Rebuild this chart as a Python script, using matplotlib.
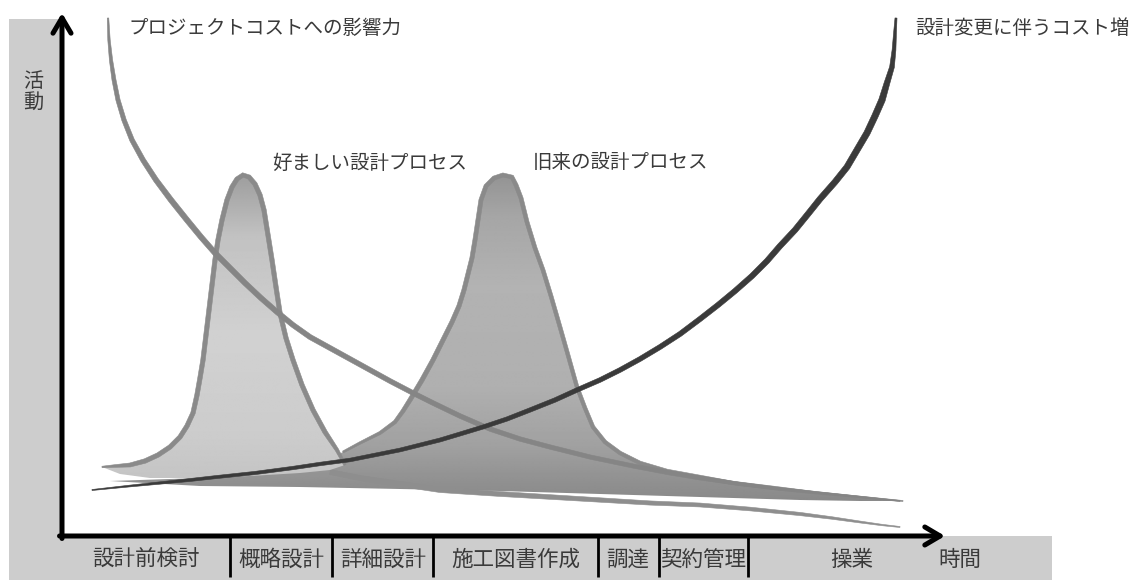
import numpy as np
import matplotlib
matplotlib.use('Agg')
import matplotlib.pyplot as plt
from matplotlib.patches import Polygon, Rectangle

plt.rcParams['font.family'] = ['Noto Sans CJK JP', 'DejaVu Sans']

# ---------------- data (chart units: t = time, a = activity; origin at axes corner) ----------------
phase_labels = ['設計前検討', '概略設計', '詳細設計', '施工図書作成', '調達', '契約管理', '操業']
phase_centers = [84, 219, 321, 454, 566, 641, 790]
phase_bounds = [168, 270, 371, 536, 597, 686]

# preferred design process (left peak): upper edge, then base back to start
pref_edge_t = [40, 53, 68, 83, 96, 108, 118, 125, 131, 135, 138, 141, 144, 147, 150, 153, 156, 160, 165, 170,
               175, 181, 187, 193, 198, 202, 206, 210, 214, 218, 224, 231, 240, 251, 263, 275, 283]
pref_edge_a = [69, 70, 71, 75, 81, 89, 99, 110, 123, 141, 158, 176, 201, 226, 251, 276, 296, 316, 336, 349,
               357, 361, 359, 352, 341, 326, 301, 276, 249, 223, 198, 176, 151, 126, 104, 86, 71]
pref_base_t = [268, 238, 188, 138, 88, 58]
pref_base_a = [66, 63, 60, 58, 58, 62]

# traditional design process (right peak): upper edge, then base back to start
trad_edge_t = [48, 138, 218, 258, 281, 298, 318, 333, 341, 348, 360, 371, 381, 390, 397, 402, 406, 410, 413,
               416, 419, 424, 432, 441, 450, 454, 459, 465, 473, 481, 489, 498, 506, 515, 523, 531, 543, 558,
               578, 605, 638, 671, 713, 755, 798, 841]
trad_edge_a = [55, 58, 64, 72, 84, 93, 103, 114, 125, 136, 156, 176, 196, 214, 230, 246, 262, 278, 296,
               316, 336, 350, 358, 361, 359, 351, 338, 314, 288, 266, 240, 209, 181, 149, 128, 109, 94, 83,
               73, 65, 59, 53, 48, 43, 39, 35]
trad_base_t = [798, 738, 638, 538, 438, 338, 238, 138]
trad_base_a = [35, 36, 39, 42, 45, 47, 49, 50]
trad_rim_from = 4

# long lower tail
tail_t = [268, 283, 298, 318, 338, 358, 378, 408, 438, 488, 538, 588, 638, 688, 738, 770, 798, 820, 838]
tail_a = [64, 61, 58, 55, 52, 49, 46, 44, 42, 39, 36, 33, 31, 27, 22, 18, 14, 11, 9]

# influence on project cost
infl_t = [46, 47, 49, 52, 56, 62, 70, 81, 94, 109, 125, 139, 153, 168, 183, 199, 215, 231, 248, 268, 288, 308,
          328, 351, 371, 398, 428, 458, 488, 528, 571, 608, 638, 678, 718, 758, 798, 838]
infl_a = [518, 496, 476, 456, 436, 416, 396, 376, 356, 336, 316, 299, 283, 268, 253, 238, 224, 211, 199, 188,
          177, 166, 155, 143, 133, 120, 107, 97, 89, 79, 70, 63, 58, 52, 47, 43, 39, 35]

# cost of design changes
cost_t = [30, 68, 98, 128, 155, 193, 231, 258, 288, 313, 338, 358, 378, 398, 421, 445, 468, 493, 515, 538, 558,
          578, 598, 618, 638, 656, 673, 690, 705, 718, 733, 746, 758, 773, 785, 795, 805, 813, 820, 825, 830,
          832, 833, 834]
cost_a = [46, 50, 53, 56, 59, 63, 68, 72, 76, 81, 86, 91, 96, 102, 109, 117, 126, 136, 146, 156, 166,
          177, 189, 202, 217, 231, 245, 260, 275, 290, 306, 322, 337, 354, 369, 386, 403, 420, 436, 453, 469,
          486, 503, 518]

txt_color = '#3a3a3a'


def arclen_frac(x, y):
    s = np.concatenate([[0], np.cumsum(np.hypot(np.diff(x), np.diff(y)))])
    return s / s[-1]


def stroke(ax, x, y, w, color, z):
    x = np.asarray(x, float)
    y = np.asarray(y, float)
    w = np.asarray(w, float)
    dx = np.gradient(x)
    dy = np.gradient(y)
    n = np.hypot(dx, dy)
    nx, ny = -dy / n, dx / n
    left = np.column_stack([x + nx * w / 2, y + ny * w / 2])
    right = np.column_stack([x - nx * w / 2, y - ny * w / 2])
    poly = np.vstack([left, right[::-1]])
    ax.add_patch(Polygon(poly, closed=True, fc=color, ec=color, lw=0.4, zorder=z, joinstyle='round'))


def gradient_fill(ax, xs, ys, stops_y, stops_v, z):
    patch = Polygon(np.column_stack([xs, ys]), closed=True, fc='none', ec='none', zorder=z)
    ax.add_patch(patch)
    y0, y1 = min(ys), max(ys)
    yy = np.linspace(y0, y1, 300)
    vals = np.interp(yy, stops_y, stops_v)
    img = np.tile(vals[:, None], (1, 2))
    im = ax.imshow(img, extent=[min(xs), max(xs), y0, y1], origin='lower', cmap='gray', vmin=0, vmax=1,
                   aspect='auto', zorder=z, interpolation='bilinear')
    im.set_clip_path(patch)


fig = plt.figure(figsize=(11.32, 5.8), dpi=100)
ax = fig.add_axes([0, 0, 1, 1])
ax.set_xlim(-62, 1070)
ax.set_ylim(-44, 536)
ax.axis('off')

# gray bands
band = '#cdcdcd'
ax.add_patch(Rectangle((-53, -44), 53, 561, fc=band, ec='none', zorder=0))
ax.add_patch(Rectangle((-53, -44), 1043, 44, fc=band, ec='none', zorder=0))

# traditional peak
trad_t = trad_edge_t + trad_base_t
trad_a = trad_edge_a + trad_base_a
gradient_fill(ax, trad_t, trad_a, [35, 50, 90, 150, 250, 320, 361], [0.54, 0.56, 0.63, 0.69, 0.70, 0.65, 0.58], 2)
rt, ra = trad_edge_t[trad_rim_from:], trad_edge_a[trad_rim_from:]
stroke(ax, rt, ra, np.interp(arclen_frac(rt, ra), [0, 0.1, 0.85, 1], [2, 4.5, 3.5, 1]), '#8a8a8a', 3)

# lower tail
tx, ty = np.array(tail_t, float), np.array(tail_a, float)
stroke(ax, tx, ty, np.interp(arclen_frac(tx, ty), [0, 0.25, 0.8, 1], [5, 5, 3.5, 1]), '#8e8e8e', 3)

# preferred peak
pref_t = pref_edge_t + pref_base_t
pref_a = pref_edge_a + pref_base_a
gradient_fill(ax, pref_t, pref_a, [58, 100, 200, 300, 361], [0.77, 0.80, 0.82, 0.76, 0.62], 4)
stroke(ax, pref_edge_t, pref_edge_a,
       np.interp(arclen_frac(pref_edge_t, pref_edge_a), [0, 0.05, 0.95, 1], [1.5, 4.5, 4.5, 2.5]), '#8a8a8a', 5)

# influence curve
ix, iy = np.array(infl_t, float), np.array(infl_a, float)
stroke(ax, ix, iy, np.interp(arclen_frac(ix, iy), [0, 0.06, 0.2, 0.8, 1], [1.5, 4, 5.5, 4, 1]), '#858585', 6)

# cost of change curve
cx, cy = np.array(cost_t, float), np.array(cost_a, float)
stroke(ax, cx, cy, np.interp(arclen_frac(cx, cy), [0, 0.1, 0.5, 0.92, 1], [1, 3, 4.5, 6.5, 2]), '#3a3a3a', 7)

# axes arrows
arrow_style = '->,head_length=1.1,head_width=0.65'
ax.annotate('', xy=(0, 523), xytext=(0, -2.5),
            arrowprops=dict(arrowstyle=arrow_style, lw=3.6, color='black', shrinkA=0, shrinkB=0,
                            mutation_scale=10), zorder=9)
ax.annotate('', xy=(883, 0), xytext=(-2.5, 0),
            arrowprops=dict(arrowstyle=arrow_style, lw=3.6, color='black', shrinkA=0, shrinkB=0,
                            mutation_scale=10), zorder=9)

# phase separators and labels
for b in phase_bounds:
    ax.plot([b, b], [0, -41], color='black', lw=2, zorder=8, solid_capstyle='butt')
for lab, c in zip(phase_labels, phase_centers):
    ax.text(c, -24, lab, ha='center', va='center', fontsize=15.5, color=txt_color, zorder=10)
ax.text(898, -24, '時間', ha='center', va='center', fontsize=15.5, color=txt_color, zorder=10)

# annotations
ax.text(-29, 444, '活\n動', ha='center', va='center', fontsize=14.5, color=txt_color, linespacing=1.0, zorder=10)
ax.text(66, 508, 'プロジェクトコストへの影響力', ha='left', va='center', fontsize=14, color=txt_color, zorder=10)
ax.text(853, 508, '設計変更に伴うコスト増', ha='left', va='center', fontsize=14, color=txt_color, zorder=10)
ax.text(210, 373, '好ましい設計プロセス', ha='left', va='center', fontsize=14, color=txt_color, zorder=10)
ax.text(471, 373, '旧来の設計プロセス', ha='left', va='center', fontsize=14, color=txt_color, zorder=10)

ax.set_xlim(-62, 1070)
ax.set_ylim(-44, 536)
fig.savefig('out.png', dpi=100)
